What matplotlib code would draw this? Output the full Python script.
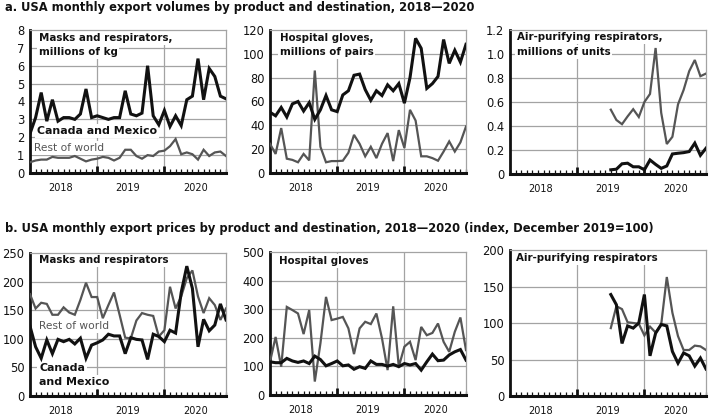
import numpy as np
import matplotlib
matplotlib.use("Agg")
import matplotlib.pyplot as plt
from matplotlib.transforms import blended_transform_factory

plt.rcParams['font.family'] = ['DejaVu Sans']

# ---------------- data ----------------
months = [f"{y}-{m:02d}" for y in (2018, 2019, 2020) for m in range(1, 13)]
years = ["2018", "2019", "2020"]
apr_start = "2019-07"   # first month with air-purifying respirator data

# a. volumes
masks_vol_cm = [2.2, 3.1, 4.5, 2.9, 4.1, 2.9, 3.1, 3.1, 3.0, 3.3, 4.7, 3.1,
                3.2, 3.1, 3.0, 3.1, 3.1, 4.6, 3.3, 3.2, 3.35, 6.0, 3.2, 2.7,
                3.5, 2.6, 3.2, 2.65, 4.1, 4.3, 6.4, 4.1, 5.85, 5.4, 4.3, 4.15]
masks_vol_rw = [0.6, 0.7, 0.75, 0.75, 0.9, 0.85, 0.85, 0.85, 0.95, 0.8, 0.65, 0.75,
                0.8, 0.9, 0.85, 0.7, 0.85, 1.3, 1.3, 0.95, 0.8, 1.0, 0.95, 1.2,
                1.25, 1.5, 1.9, 1.05, 1.15, 1.05, 0.75, 1.3, 0.95, 1.15, 1.2, 0.95]
gloves_vol_cm = [51, 48, 55, 47, 58, 60, 52, 59, 45, 53, 65, 53,
                 51.5, 65.5, 69, 82, 83, 70, 61, 69, 65, 74, 69, 75,
                 58.6, 80, 113, 104.6, 71, 75, 81, 112, 92, 103, 93, 108]
gloves_vol_rw = [24.5, 16, 37.7, 12, 11, 9, 16, 10.6, 86, 22, 9, 10,
                 10, 10.3, 17, 32, 24.5, 14, 22, 12.5, 24.5, 33.5, 10, 36,
                 21, 53, 44, 14, 14, 12.5, 10.3, 18, 26.5, 18, 25.7, 39]
apr_vol_rw = [0.536, 0.45, 0.415, 0.48, 0.54, 0.475, 0.6, 0.667, 1.05,
              0.51, 0.25, 0.31, 0.58, 0.70, 0.857, 0.95, 0.815, 0.837]
apr_vol_cm = [0.035, 0.04, 0.085, 0.09, 0.06, 0.06, 0.035, 0.117, 0.08,
              0.047, 0.067, 0.167, 0.173, 0.178, 0.187, 0.257, 0.156, 0.215]

# b. prices (index, Dec 2019 = 100)
masks_px_rw = [178, 153, 163, 161, 142, 142, 155, 146, 142, 168, 198, 173,
               173, 136, 159, 181, 142, 102, 100.7, 132, 145, 142, 140, 104,
               115, 191, 153, 174, 206, 219.5, 174, 145, 171, 159, 133, 153]
masks_px_cm = [122, 86, 66, 98, 74, 99, 95, 99, 91, 101, 66, 89,
               93, 98, 108, 105, 105, 74, 102, 99, 98, 64, 108, 104,
               95, 115, 110, 181, 227, 188, 86, 134, 114, 124, 161, 133]
gloves_px_rw = [116, 203, 99, 308, 297, 285, 213, 297, 47, 180, 343, 262,
                267, 273, 233, 143, 233, 256, 248, 285, 198, 87, 310, 99,
                169, 186, 122, 238, 209, 217, 250, 186, 151, 221, 271, 157]
gloves_px_cm = [116, 113, 113, 128, 119, 114, 119, 110, 136, 124, 102, 110,
                119, 102, 105, 90, 99, 93, 119, 107, 107, 101, 107, 99,
                110, 105, 110, 87, 116, 143, 120, 122, 140, 151, 159, 122]
apr_px_rw = [93, 123, 119, 101, 100, 99, 83, 95, 87, 98, 163, 114, 82, 63, 63, 69, 68, 63]
apr_px_cm = [139, 125, 72, 96, 93, 100, 139, 55, 86, 98, 96, 61, 45, 59, 55, 41, 52, 37]

title_a = "a. USA monthly export volumes by product and destination, 2018\u20142020"
title_b = "b. USA monthly export prices by product and destination, 2018\u20142020 (index, December 2019=100)"

# ---------------- drawing ----------------
W, H = 709, 415
fig = plt.figure(figsize=(W / 100, H / 100), dpi=100)
fig.patch.set_facecolor("white")

BLACK = "#111111"
GRAY = "#555555"
GRID = "#a3a3a3"

x_all = np.arange(len(months))
x_apr = x_all[months.index(apr_start):]


def make_ax(left, top, right, bottom):
    ax = fig.add_axes([left / W, 1 - bottom / H, (right - left) / W, (bottom - top) / H])
    ax._px = (right - left, bottom - top)
    return ax


def style(ax, ymax, step, fmt):
    ax.set_xlim(0, len(months) - 1)
    ax.set_ylim(0, ymax)
    ticks = np.arange(0, ymax + step / 2, step)
    ax.set_yticks(ticks)
    ax.set_yticklabels([fmt(t) for t in ticks])
    for t in ticks[1:-1]:
        ax.axhline(t, color=GRID, lw=0.9, zorder=1)
    for xv in (12, 24):
        ax.axvline(xv, color=GRID, lw=0.9, zorder=1)
    for s in ("top", "right"):
        ax.spines[s].set_color(GRID)
        ax.spines[s].set_linewidth(0.9)
    ax.spines["left"].set_color(BLACK)
    ax.spines["left"].set_linewidth(2.0)
    ax.spines["bottom"].set_color(BLACK)
    ax.spines["bottom"].set_linewidth(2.2)
    ax.tick_params(axis="y", length=0, pad=4, labelsize=8.3, labelcolor=BLACK)
    ax.set_xticks([12, 24])
    ax.set_xticklabels([])
    ax.set_xticks([m for m in range(len(months)) if m not in (12, 24)], minor=True)
    ax.tick_params(axis="x", which="major", direction="in", length=5, width=2, color=BLACK)
    ax.tick_params(axis="x", which="minor", direction="in", length=3, width=0.9, color=BLACK)
    tr = blended_transform_factory(ax.transData, ax.transAxes)
    for i, y in enumerate(years):
        ax.text(12 * i + 5.5, -17.5 / ax._px[1], y, transform=tr, ha="center", va="baseline",
                fontsize=7, color=BLACK)


def label(ax, lines, x_off, y_offs, size, weight="bold", color=BLACK):
    w, h = ax._px
    for line, yo in zip(lines, y_offs):
        ax.text(x_off / w, 1 - yo / h, line, transform=ax.transAxes, ha="left", va="center",
                fontsize=size, fontweight=weight, color=color, zorder=2,
                bbox=dict(boxstyle="square,pad=0.15", fc="white", ec="none"))


def draw(ax, x, cm, rw):
    ax.plot(x, rw, color=GRAY, lw=1.6, zorder=3, solid_joinstyle="miter")
    ax.plot(x, cm, color=BLACK, lw=2.2, zorder=4, solid_joinstyle="miter")


int_fmt = lambda t: f"{t:.0f}"
dec_fmt = lambda t: "0" if t == 0 else f"{t:.1f}"

LBL = 7.4
ROW = 7.7

# Row a
a1 = make_ax(30, 30, 226, 173)
style(a1, 8, 1, int_fmt)
draw(a1, x_all, masks_vol_cm, masks_vol_rw)
label(a1, ["Masks and respirators,", "millions of kg"], 9, [8, 22], LBL)
label(a1, ["Canada and Mexico"], 7, [101], 7.9)
label(a1, ["Rest of world"], 4, [118], ROW, weight="normal", color=GRAY)

a2 = make_ax(270, 30, 466, 173)
style(a2, 120, 20, int_fmt)
draw(a2, x_all, gloves_vol_cm, gloves_vol_rw)
label(a2, ["Hospital gloves,", "millions of pairs"], 10, [8, 22], LBL)

a3 = make_ax(510, 30, 706, 174)
style(a3, 1.2, 0.2, dec_fmt)
draw(a3, x_apr, apr_vol_cm, apr_vol_rw)
label(a3, ["Air-purifying respirators,", "millions of units"], 7, [7, 22], LBL)

# Row b
b1 = make_ax(30, 253, 226, 396)
style(b1, 250, 50, int_fmt)
draw(b1, x_all, masks_px_cm, masks_px_rw)
label(b1, ["Masks and respirators"], 9, [7], LBL)
label(b1, ["Rest of world"], 9, [73], ROW, weight="normal", color=GRAY)
label(b1, ["Canada", "and Mexico"], 9, [115, 129], 7.9)

b2 = make_ax(270, 252, 466, 395)
style(b2, 500, 100, int_fmt)
draw(b2, x_all, gloves_px_cm, gloves_px_rw)
label(b2, ["Hospital gloves"], 9, [9], LBL)

b3 = make_ax(510, 250, 706, 396)
style(b3, 200, 50, int_fmt)
draw(b3, x_apr, apr_px_cm, apr_px_rw)
label(b3, ["Air-purifying respirators"], 6, [8], LBL)

fig.text(5 / W, 1 - 8 / H, title_a, ha="left", va="center", fontsize=8.3,
         fontweight="bold", color=BLACK)
fig.text(5 / W, 1 - 228 / H, title_b, ha="left", va="center", fontsize=8.3,
         fontweight="bold", color=BLACK)

fig.savefig("out.png", dpi=100, facecolor="white")
